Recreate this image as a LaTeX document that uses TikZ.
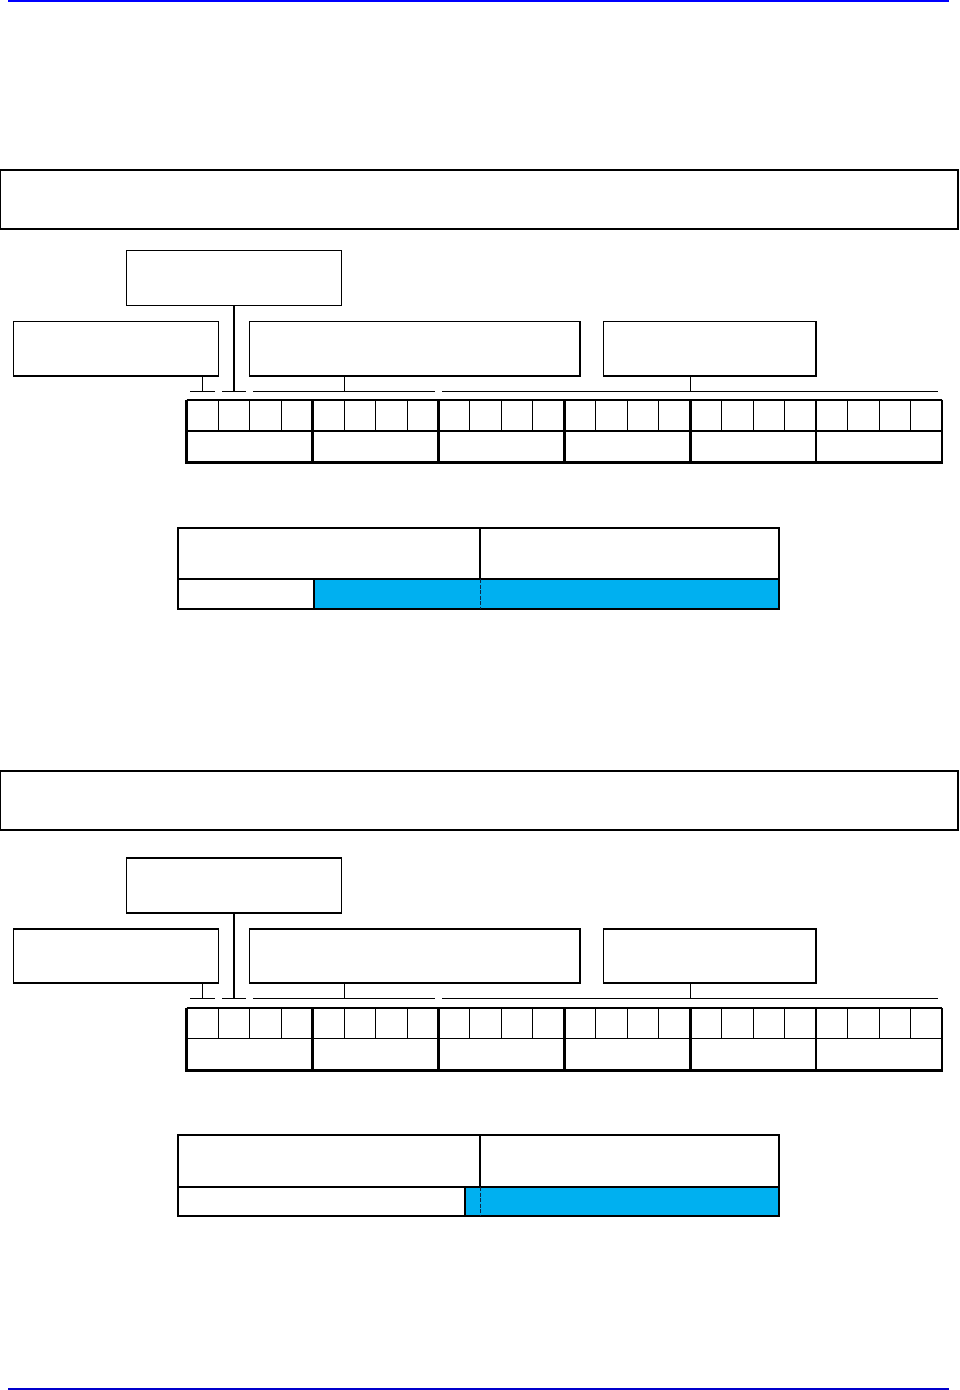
\documentclass[tikz,border=0pt]{standalone}
\definecolor{cellblue}{RGB}{0,176,240}
\definecolor{headblue}{RGB}{0,0,255}
\definecolor{footblue}{RGB}{0,0,204}
\definecolor{dashcol}{RGB}{10,40,70}
\tikzset{
  frame/.style={draw, rectangle, anchor=north west, inner sep=0pt, outer sep=0pt, line width=1.3pt},
  brack/.style={line width=0.9pt},
  tick/.style={line width=0.9pt},
  stem/.style={line width=2.4pt},
  gridthin/.style={line width=0.9pt},
  gridthick/.style={line width=2.6pt},
  tabline/.style={line width=1.2pt},
}
\begin{document}
\begin{tikzpicture}[x=1pt,y=-1pt]
\useasboundingbox (0,0) rectangle (959,1390);
\coordinate (hl) at (8,0.8);
\coordinate (hr) at (949,0.8);
\draw[headblue, line width=1.6pt] (hl) -- (hr);
\coordinate (fl) at (8,1389.2);
\coordinate (fr) at (949,1389.2);
\draw[footblue, line width=1.6pt] (fl) -- (fr);
\foreach \p/\ZA/\ZB/\ZC/\ZD/\ZE/\ZF/\ZG/\ZH/\ZI/\ZJ/\ZK/\ZL/\ZM/\ZN in
  {s1/170/229/250.5/305.5/321.5/376/391/399.5/431/462.5/528/579/609/314,
   s2/771/830/858/913/929/983/998.5/1008/1038.5/1070/1135/1187/1216/465}{
  % header box
  \node[frame, minimum width=957.5pt, minimum height={\ZB pt-\ZA pt}] (\p top) at (0.5,\ZA) {};
  % boxes
  \node[frame, minimum width=215pt, minimum height={\ZD pt-\ZC pt}] (\p A) at (126.5,\ZC) {};
  \node[frame, minimum width=205pt, minimum height={\ZF pt-\ZE pt}] (\p L) at (13.5,\ZE) {};
  \node[frame, minimum width=330.5pt, minimum height={\ZF pt-\ZE pt}] (\p M) at (249.5,\ZE) {};
  \node[frame, minimum width=212.5pt, minimum height={\ZF pt-\ZE pt}] (\p R) at (603.5,\ZE) {};
  % bracket coordinates
  \coordinate (\p bL) at (202.3,\ZG);
  \coordinate (\p bM) at (344.3,\ZG);
  \coordinate (\p bR) at (690.3,\ZG);
  \draw[tick] (\p bL |- \p L.south) -- (\p bL);
  \draw[tick] (\p bM |- \p M.south) -- (\p bM);
  \draw[tick] (\p bR |- \p R.south) -- (\p bR);
  \draw[stem] (\p A.south) -- (\p A.south |- \p bL);
  \draw[brack] (190,\ZG) -- (215,\ZG);
  \draw[brack] (222,\ZG) -- (246,\ZG);
  \draw[brack] (253.3,\ZG) -- (435,\ZG);
  \draw[brack] (442,\ZG) -- (937.7,\ZG);
  % grid
  \foreach \i in {1,...,23}{
    \draw[gridthin] ({186.7+\i*31.471},\ZH) -- ({186.7+\i*31.471},\ZI);
  }
  \foreach \i in {1,...,5}{
    \draw[gridthick] ({186.7+\i*125.883},\ZH) -- ({186.7+\i*125.883},\ZJ);
  }
  \draw[line width=2pt] (186.7,\ZH) -- (942,\ZH);
  \draw[line width=1.8pt] (186.7,\ZI) -- (942,\ZI);
  \draw[line width=3pt] (185.4,\ZJ) -- (943.3,\ZJ);
  \draw[gridthick] (186.7,\ZH) -- (186.7,\ZJ);
  \draw[gridthick] (942,\ZH) -- (942,\ZJ);
  % lower table
  \node[frame, tabline, fill=cellblue, minimum width={779pt-\ZN pt}, minimum height={\ZM pt-\ZL pt}] (\p T4) at (\ZN,\ZL) {};
  \node[frame, tabline, minimum width={\ZN pt-178pt}, minimum height={\ZM pt-\ZL pt}] (\p T3) at (178,\ZL) {};
  \node[frame, tabline, minimum width=302pt, minimum height={\ZL pt-\ZK pt}] (\p T1) at (178,\ZK) {};
  \node[frame, tabline, minimum width=299pt, minimum height={\ZL pt-\ZK pt}] (\p T2) at (480,\ZK) {};
  \draw[line width=1pt, dashcol, dash pattern=on 4pt off 1.5pt] (\p T2.south west) -- (\p T2.south west |- \p T4.south);
}
\end{tikzpicture}
\end{document}
